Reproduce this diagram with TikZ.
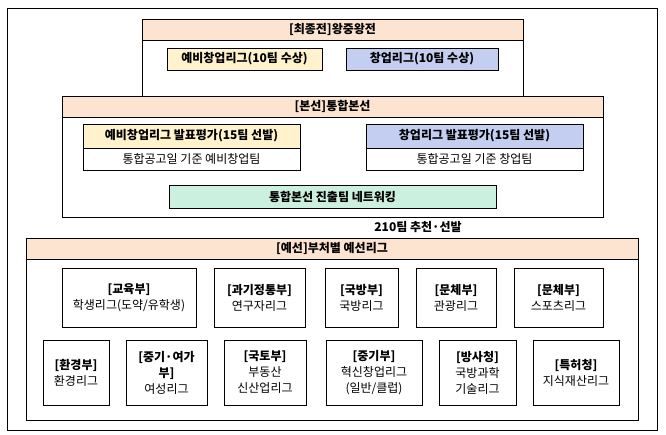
\documentclass[tikz,border=0pt]{standalone}
\usepackage{fontspec}
\setmainfont{Noto Sans CJK KR}
\definecolor{lg_head}{RGB}{252, 228, 208}
\definecolor{lg_yellow}{RGB}{255, 242, 204}
\definecolor{lg_blue}{RGB}{196, 206, 240}
\definecolor{lg_green}{RGB}{204, 240, 224}
\usetikzlibrary{positioning}
\tikzset{
  boxline/.style={draw=black, line width=0.9pt},
  headtxt/.style={font=\fontsize{12}{14}\selectfont\bfseries},
  bodytxt/.style={font=\fontsize{12}{16}\selectfont, align=center}
}
\begin{document}
\begin{tikzpicture}[x=1pt, y=-1pt]
        \useasboundingbox (0,0) rectangle (666,435);
        % --- Outer frame ---
        \draw[boxline] (7,8) rectangle (657,430);

        % [최종전]
        \draw[boxline, fill=lg_head] (142,19) rectangle (523,40);
        \draw[boxline] (142,40) rectangle (523,102);
        \node[headtxt] (final) at (332.5,29.5) {[최종전]왕중왕전};
        \draw[boxline, fill=lg_yellow] (167,48) rectangle (322,70);
        \node[headtxt] (finpre) at (244.5,59) {예비창업리그(10팀 수상)};
        \draw[boxline, fill=lg_blue] (346,48) rectangle (498,70);
        \node[headtxt] (finstart) at (422,59) {창업리그(10팀 수상)};

        % [본선]
        \draw[boxline, fill=lg_head] (62,96) rectangle (603,117);
        \draw[boxline] (62,117) rectangle (603,217);
        \node[headtxt] (main) at (332.5,106.5) {[본선]통합본선};
        \draw[boxline, fill=lg_yellow] (83,124) rectangle (300,148);
        \draw[boxline] (83,148) rectangle (300,170);
        \node[headtxt] (mainpre) at (191.5,136) {예비창업리그 발표평가(15팀 선발)};
        \node[bodytxt] (mainpresub) at (191.5,159) {통합공고일 기준 예비창업팀};
        \draw[boxline, fill=lg_blue] (366,124) rectangle (583,148);
        \draw[boxline] (366,148) rectangle (583,170);
        \node[headtxt] (mainstart) at (474.5,136) {창업리그 발표평가(15팀 선발)};
        \node[bodytxt] (mainstartsub) at (474.5,159) {통합공고일 기준 창업팀};
        \draw[boxline, fill=lg_green] (169,185) rectangle (496,208);
        \node[headtxt] (network) at (332.5,196.5) {통합본선 진출팀 네트워킹};

        \node[headtxt] (pick) at (418,227) {210팀 추천·선발};

        % [예선]
        \draw[boxline, fill=lg_head] (26,238) rectangle (638,259);
        \draw[boxline] (26,259) rectangle (638,420);
        \node[headtxt] (pre) at (332,248.5) {[예선]부처별 예선리그};

        % Row 1
        \foreach \xa/\xb/\nm/\txt in {62/196/edu/{\textbf{[교육부]}\\학생리그(도약/유학생)},
                                      214/305/msit/{\textbf{[과기정통부]}\\연구자리그},
                                      325/398/mnd/{\textbf{[국방부]}\\국방리그},
                                      416/496/tour/{\textbf{[문체부]}\\관광리그},
                                      514/603/sport/{\textbf{[문체부]}\\스포츠리그}} {
          \draw[boxline] (\xa,268) rectangle (\xb,327);
          \node[bodytxt] (\nm) at ({(\xa+\xb)/2},297.5) {\txt};
        }

        % Row 2
        \foreach \xa/\xb/\nm/\txt in {43/109/env/{\textbf{[환경부]}\\환경리그},
                                      126/207/women/{\textbf{[중기·여가}\\\textbf{부]}\\여성리그},
                                      224/306/land/{\textbf{[국토부]}\\부동산\\신산업리그},
                                      326/422/sme/{\textbf{[중기부]}\\혁신창업리그\\(일반/클럽)},
                                      439/516/dapa/{\textbf{[방사청]}\\국방과학\\기술리그},
                                      533/619/kipo/{\textbf{[특허청]}\\지식재산리그}} {
          \draw[boxline] (\xa,340) rectangle (\xb,405);
          \node[bodytxt] (\nm) at ({(\xa+\xb)/2},372.5) {\txt};
        }
\end{tikzpicture}
\end{document}
